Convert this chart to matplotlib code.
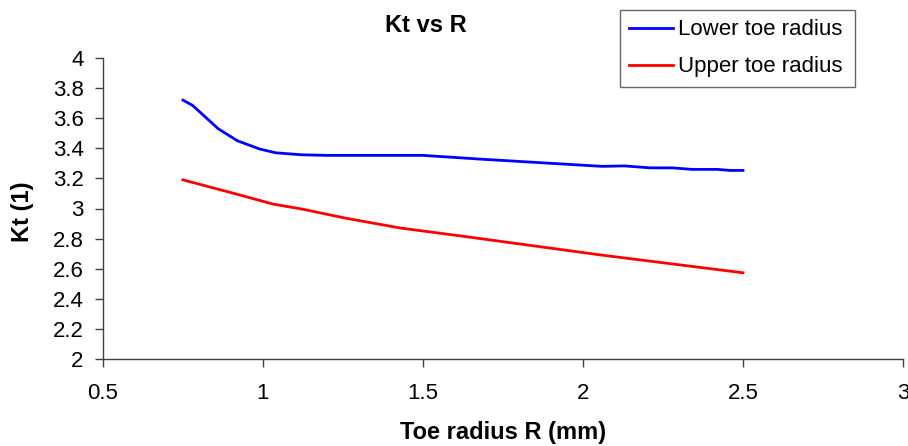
import matplotlib
matplotlib.use("Agg")
import matplotlib.pyplot as plt

plt.rcParams['font.family'] = ['Liberation Sans', 'DejaVu Sans']

lower_r = [0.75, 0.78, 0.86, 0.92, 0.99, 1.04, 1.12, 1.2, 1.5, 1.68, 2.06, 2.13, 2.21, 2.28, 2.34, 2.42, 2.46, 2.5]
lower_kt = [3.72, 3.685, 3.53, 3.45, 3.395, 3.37, 3.357, 3.353, 3.353, 3.328, 3.28, 3.283, 3.27, 3.27, 3.26, 3.26, 3.253, 3.253]
upper_r = [0.75, 0.91, 1.03, 1.125, 1.26, 1.43, 1.62, 2.06, 2.5]
upper_kt = [3.19, 3.10, 3.03, 2.995, 2.935, 2.87, 2.817, 2.69, 2.573]
x_ticks = [0.5, 1, 1.5, 2, 2.5, 3]
x_tick_labels = ['0.5', '1', '1.5', '2', '2.5', '3']
y_ticks = [2, 2.2, 2.4, 2.6, 2.8, 3, 3.2, 3.4, 3.6, 3.8, 4]
y_tick_labels = ['2', '2.2', '2.4', '2.6', '2.8', '3', '3.2', '3.4', '3.6', '3.8', '4']

W, H = 908, 446
fig = plt.figure(figsize=(W / 100, H / 100), dpi=100)
ax = fig.add_axes([103 / W, (H - 359) / H, 800 / W, 301 / H])

l1, = ax.plot(lower_r, lower_kt, color='#0000FF', lw=2.0, label='Lower toe radius')
l2, = ax.plot(upper_r, upper_kt, color='#FF0000', lw=2.0, label='Upper toe radius')

ax.set_xlim(0.5, 3)
ax.set_ylim(2, 4)
ax.set_xticks(x_ticks)
ax.set_xticklabels(x_tick_labels)
ax.set_yticks(y_ticks)
ax.set_yticklabels(y_tick_labels)

for s in ['top', 'right']:
    ax.spines[s].set_visible(False)
for s in ['left', 'bottom']:
    ax.spines[s].set_color('#404040')
    ax.spines[s].set_linewidth(1.0)

ax.tick_params(axis='both', direction='out', length=6, width=1.0, color='#404040',
               labelsize=16, labelcolor='black')
ax.tick_params(axis='x', pad=11)
ax.tick_params(axis='y', pad=8)

fig.text(426 / W, 1 - 25 / H, 'Kt vs R', ha='center', va='center', fontsize=17, fontweight='bold')
fig.text(503 / W, 1 - 432 / H, 'Toe radius R (mm)', ha='center', va='center', fontsize=17, fontweight='bold')
fig.text(22 / W, 1 - 212 / H, 'Kt (1)', ha='center', va='center', rotation=90, fontsize=17, fontweight='bold')

leg = fig.legend(handles=[l1, l2], loc='upper left',
                 bbox_to_anchor=(620 / W, 1 - 10 / H, 235 / W, 0), mode='expand',
                 fontsize=16, frameon=True, fancybox=False, edgecolor='#404040',
                 handlelength=1.98, handletextpad=0.22, borderpad=0.42, labelspacing=0.72,
                 borderaxespad=0)
leg.get_frame().set_linewidth(1.0)

fig.savefig('out.png', dpi=100)
